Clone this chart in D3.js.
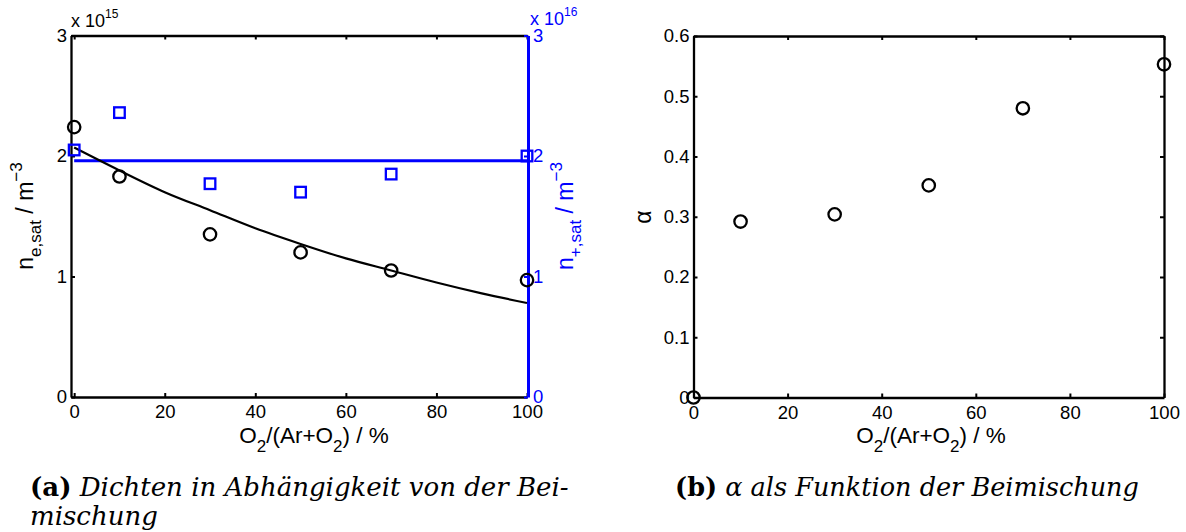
<!DOCTYPE html>
<html>
<head>
<meta charset="utf-8">
<script src="https://cdn.jsdelivr.net/npm/d3@7"></script>
<style>
  body { margin: 0; background: #fff; }
  svg { display: block; }
</style>
</head>
<body>
<svg id="chart" width="1186" height="532"></svg>
<script>
// O2 admixture in %
var mix = [0, 10, 30, 50, 70, 100];
// electron density n_e,sat (x 1e15 m^-3), black circles
var neSat = [2.24, 1.83, 1.35, 1.20, 1.05, 0.97];
// ion density n_+,sat (x 1e16 m^-3), blue squares
var nPlus = [2.05, 2.36, 1.77, 1.70, 1.85, 2.00];
// mean ion density, blue horizontal line
var nPlusMean = 1.96;
// fitted curve through n_e,sat
var fitX = [0, 10, 20, 30, 40, 50, 60, 70, 80, 90, 100];
var fitY = [2.07, 1.88, 1.70, 1.55, 1.40, 1.27, 1.15, 1.05, 0.95, 0.86, 0.78];
// alpha = n_-/n_e
var alpha = [0, 0.292, 0.304, 0.352, 0.480, 0.553];

var xTicks = [0, 20, 40, 60, 80, 100];
var yTicksA = [0, 1, 2, 3];
var yTicksB = [0, 0.1, 0.2, 0.3, 0.4, 0.5, 0.6];

var blue = "#0000ff";
var sans = '"Liberation Sans", Arial, Helvetica, sans-serif';
var serif = '"DejaVu Serif", "Liberation Serif", serif';
var tickFont = 18.5;

var svg = d3.select("#chart");

function styleAxis(g, color, width) {
  g.attr("font-family", sans).attr("font-size", tickFont);
  g.selectAll(".domain").attr("stroke", color).attr("stroke-width", width);
  g.selectAll(".tick line").attr("stroke", color).attr("stroke-width", 2);
  g.selectAll(".tick text").attr("fill", color);
}

// ---------- panel (a) ----------
var xa = d3.scaleLinear().domain([-0.7, 100]).range([71, 527]);
var ya = d3.scaleLinear().domain([0, 3]).range([397, 35.5]);

var ga = svg.append("g");

ga.append("g")
  .attr("transform", "translate(0," + ya(0) + ")")
  .call(d3.axisBottom(xa).tickValues(xTicks).tickSize(-4).tickSizeOuter(0).tickPadding(8))
  .call(styleAxis, "#000", 2.3);
ga.append("g")
  .attr("transform", "translate(0," + ya(3) + ")")
  .call(d3.axisTop(xa).tickValues(xTicks).tickSize(-4).tickSizeOuter(0).tickFormat(""))
  .call(styleAxis, "#000", 2.3);
ga.append("g")
  .attr("transform", "translate(" + xa.range()[0] + ",0)")
  .call(d3.axisLeft(ya).tickValues(yTicksA).tickSize(-4).tickSizeOuter(0).tickPadding(4).tickFormat(d3.format("d")))
  .call(styleAxis, "#000", 2.3);
ga.append("g")
  .attr("transform", "translate(" + (xa.range()[1] + 1) + ",0)")
  .call(d3.axisRight(ya).tickValues(yTicksA).tickSize(-4).tickSizeOuter(0).tickPadding(5).tickFormat(d3.format("d")))
  .call(styleAxis, blue, 3);

// blue mean line
ga.append("line")
  .attr("x1", xa(0)).attr("x2", xa(100))
  .attr("y1", ya(nPlusMean)).attr("y2", ya(nPlusMean))
  .attr("stroke", blue).attr("stroke-width", 3);

// black fit curve
var fitLine = d3.line()
  .x(function(d, i) { return xa(fitX[i]); })
  .y(function(d) { return ya(d); })
  .curve(d3.curveMonotoneX);
ga.append("path")
  .attr("d", fitLine(fitY))
  .attr("fill", "none").attr("stroke", "#000").attr("stroke-width", 2.2);

// markers
ga.selectAll("rect.sq")
  .data(nPlus)
  .enter().append("rect")
  .attr("class", "sq")
  .attr("x", function(d, i) { return xa(mix[i]) - 5.3; })
  .attr("y", function(d) { return ya(d) - 5.3; })
  .attr("width", 10.6).attr("height", 10.6)
  .attr("fill", "none").attr("stroke", blue).attr("stroke-width", 2.3);

ga.selectAll("circle.ne")
  .data(neSat)
  .enter().append("circle")
  .attr("class", "ne")
  .attr("cx", function(d, i) { return xa(mix[i]); })
  .attr("cy", function(d) { return ya(d); })
  .attr("r", 6.2)
  .attr("fill", "none").attr("stroke", "#000").attr("stroke-width", 2.3);

// exponent labels
var e15 = ga.append("text").attr("x", 71).attr("y", 27)
  .attr("font-family", sans).attr("font-size", 18).attr("fill", "#000");
e15.append("tspan").text("x 10");
e15.append("tspan").attr("font-size", 12).attr("dy", -9).text("15");

var e16 = ga.append("text").attr("x", 530).attr("y", 25)
  .attr("font-family", sans).attr("font-size", 18).attr("fill", blue);
e16.append("tspan").text("x 10");
e16.append("tspan").attr("font-size", 12).attr("dy", -9).text("16");

// axis labels
function densLabel(g, x, sub, color) {
  var t = g.append("text")
    .attr("transform", "translate(" + x + ",216) rotate(-90)")
    .attr("text-anchor", "middle")
    .attr("font-family", sans).attr("font-size", 23).attr("fill", color);
  t.append("tspan").text("n");
  t.append("tspan").attr("font-size", 17).attr("dy", 8).text(sub);
  t.append("tspan").attr("dy", -8).text(" / m");
  t.append("tspan").attr("font-size", 17).attr("dy", -11).text("\u22123");
}
densLabel(ga, 33, "e,sat", "#000");
densLabel(ga, 573, "+,sat", blue);

function xLabel(g, cx) {
  var t = g.append("text")
    .attr("x", cx).attr("y", 443)
    .attr("text-anchor", "middle")
    .attr("font-family", sans).attr("font-size", 22.5).attr("fill", "#000");
  t.append("tspan").text("O");
  t.append("tspan").attr("font-size", 17).attr("dy", 9).text("2");
  t.append("tspan").attr("dy", -9).text("/(Ar+O");
  t.append("tspan").attr("font-size", 17).attr("dy", 9).text("2");
  t.append("tspan").attr("dy", -9).text(") / %");
}
xLabel(ga, 314);

// ---------- panel (b) ----------
var xb = d3.scaleLinear().domain([0, 100]).range([693.5, 1164]);
var yb = d3.scaleLinear().domain([0, 0.6]).range([397.5, 36]);

var gb = svg.append("g");

gb.append("g")
  .attr("transform", "translate(0," + yb(0) + ")")
  .call(d3.axisBottom(xb).tickValues(xTicks).tickSize(-4).tickSizeOuter(0).tickPadding(8))
  .call(styleAxis, "#000", 2.3);
gb.append("g")
  .attr("transform", "translate(0," + yb(0.6) + ")")
  .call(d3.axisTop(xb).tickValues(xTicks).tickSize(-4).tickSizeOuter(0).tickFormat(""))
  .call(styleAxis, "#000", 2.3);
gb.append("g")
  .attr("transform", "translate(" + xb(0) + ",0)")
  .call(d3.axisLeft(yb).tickValues(yTicksB).tickSize(-4).tickSizeOuter(0).tickPadding(4)
    .tickFormat(function(d) { return d === 0 ? "0" : d3.format(".1f")(d); }))
  .call(styleAxis, "#000", 2.3);
gb.append("g")
  .attr("transform", "translate(" + xb(100) + ",0)")
  .call(d3.axisRight(yb).tickValues(yTicksB).tickSize(-4).tickSizeOuter(0).tickFormat(""))
  .call(styleAxis, "#000", 2.3);

gb.selectAll("circle.al")
  .data(alpha)
  .enter().append("circle")
  .attr("class", "al")
  .attr("cx", function(d, i) { return xb(mix[i]); })
  .attr("cy", function(d) { return yb(d); })
  .attr("r", 6.2)
  .attr("fill", "none").attr("stroke", "#000").attr("stroke-width", 2.3);

gb.append("text")
  .attr("transform", "translate(651,217) rotate(-90)")
  .attr("text-anchor", "middle")
  .attr("font-family", sans).attr("font-size", 23).attr("fill", "#000")
  .text("\u03b1");

xLabel(gb, 931);

// ---------- captions ----------
function caption(x, y, bold, rest, target, anchor) {
  var t = svg.append("text").attr("x", x).attr("y", y)
    .attr("font-family", serif).attr("font-size", 24).attr("fill", "#000")
    .attr("text-anchor", anchor || "start");
  if (bold) t.append("tspan").attr("font-weight", "bold").text(bold);
  t.append("tspan").attr("font-style", "italic").text(rest);
  if (target) {
    var w = t.node().getComputedTextLength();
    t.attr("font-size", 24 * target / w);
  }
  return t;
}
var capA = caption(30, 496, "(a)", " Dichten in Abhängigkeit von der Bei-", 539);
caption(30, 525, null, "mischung", null).attr("font-size", capA.attr("font-size"));
caption(907, 496, "(b)", " \u03b1 als Funktion der Beimischung", 464, "middle");
</script>
</body>
</html>
